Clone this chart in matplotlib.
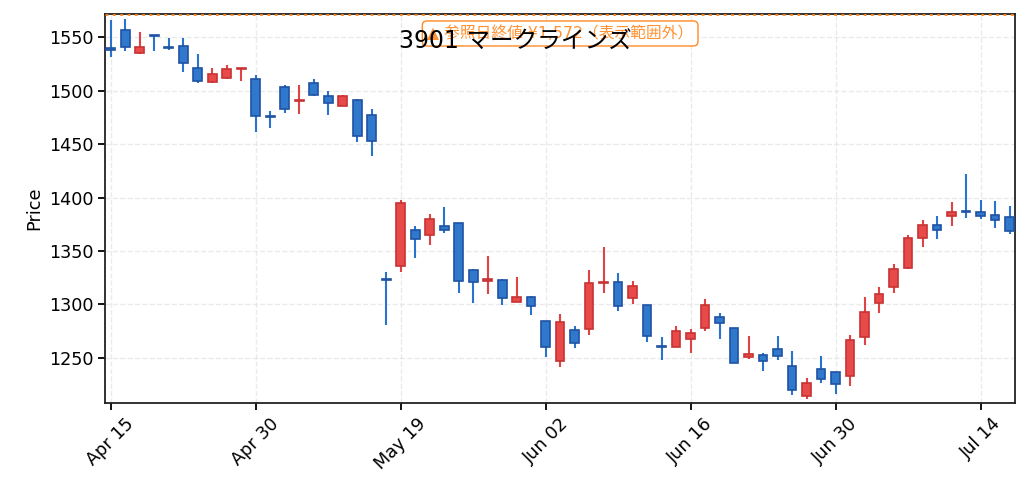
import numpy as np
import matplotlib
matplotlib.use("Agg")
import matplotlib.pyplot as plt

plt.rcParams['font.family'] = ['DejaVu Sans', 'Noto Sans CJK JP']

# 1 Datos (días hábiles)
opens = [1540, 1557, 1535.4, 1552.5, 1541, 1541.6, 1521, 1507.8, 1512, 1520,
         1511, 1476, 1503.4, 1490, 1507.5, 1495, 1485.4, 1491.3, 1477.3, 1324,
         1336, 1370, 1365, 1373.8, 1376.6, 1332.5, 1322.3, 1323, 1302.2, 1307.2,
         1284.7, 1246.9, 1276.3, 1276.9, 1320.3, 1320.8, 1306.3, 1299, 1261, 1259.7,
         1267.6, 1277.4, 1287.7, 1278.3, 1250.3, 1252.8, 1258.5, 1242.5, 1214.5, 1239.6,
         1236.8, 1232.8, 1269.7, 1301.3, 1316.3, 1333.8, 1362.2, 1374.7, 1382.8, 1387,
         1386.3, 1383.4, 1381.6]
highs = [1566.5, 1567.4, 1555.3, 1552.5, 1549, 1549.7, 1534, 1520.8, 1524.5, 1521,
         1514.3, 1480.7, 1505, 1505, 1510.6, 1499.4, 1496.3, 1492, 1482.6, 1330.3,
         1397.8, 1373.4, 1384.7, 1391.3, 1376.6, 1332.8, 1345.3, 1323.4, 1325.6, 1307.5,
         1284.7, 1290.9, 1279.7, 1332.2, 1353.8, 1328.9, 1321.4, 1299.4, 1269.5, 1279.9,
         1276.7, 1305, 1291.8, 1278.3, 1270.4, 1254, 1270.4, 1256.3, 1231.4, 1251.6,
         1236.8, 1270.9, 1306.9, 1316.3, 1337.8, 1364.7, 1379, 1382.8, 1395.9, 1422.2,
         1397.8, 1396.9, 1392.2]
lows = [1532, 1537, 1534.5, 1537.6, 1538, 1517.4, 1507, 1507.5, 1511, 1509,
        1461.5, 1465.2, 1479.2, 1478.3, 1495, 1477.3, 1485.4, 1452.2, 1439.1, 1280.6,
        1330.6, 1343.8, 1356, 1366.6, 1311, 1301.6, 1310, 1299.7, 1302.2, 1290.3,
        1251, 1241.6, 1259.4, 1271.6, 1310.9, 1293.4, 1300, 1265, 1248, 1259.7,
        1254.7, 1275.5, 1267.9, 1245, 1248.4, 1237.7, 1248, 1215, 1211.3, 1226.4,
        1216.4, 1223.8, 1262.2, 1292.2, 1311, 1332.8, 1354, 1361.6, 1373.8, 1381.3,
        1380.3, 1371.9, 1366.3]
closes = [1538.5, 1541, 1540.7, 1551.5, 1540, 1525.5, 1509.3, 1515.5, 1520.2, 1521,
          1476.7, 1475, 1483.2, 1491, 1496.3, 1488.2, 1495, 1457.5, 1452.8, 1323,
          1395.3, 1361, 1380.3, 1369.7, 1321.9, 1321, 1323, 1306, 1307.2, 1298.4,
          1260, 1283.8, 1263.8, 1320.3, 1321.3, 1298.7, 1317, 1270.4, 1260.4, 1275.5,
          1273.6, 1299.4, 1282.7, 1245, 1253.8, 1246.9, 1251.6, 1219.5, 1226.4, 1229.9,
          1225.8, 1266.6, 1292.8, 1310, 1332.8, 1362.5, 1374.7, 1369.7, 1386.9, 1386,
          1382.8, 1379, 1368.4]

tick_labels = ['Apr 15', 'Apr 30', 'May 19', 'Jun 02', 'Jun 16', 'Jun 30', 'Jul 14']
ref_close = 1572
titulo = '3901 マークラインズ'

df_o = np.array(opens)
df_h = np.array(highs)
df_l = np.array(lows)
df_c = np.array(closes)
x = np.arange(len(df_o))

sube = df_c >= df_o
cara = np.where(sube, '#e84a4a', '#2f78cc')
borde = np.where(sube, '#c83232', '#1f52a3')
mecha = np.where(sube, '#e04343', '#2a73cc')

# 2 Visualización
fig = plt.figure(figsize=(10.31, 4.92), dpi=100)
ax = fig.add_axes([0.1018, 0.181, 0.883, 0.7905])

ax.vlines(x, df_l, df_h, colors=mecha, linewidth=1.5, zorder=2)
altura = df_c - df_o
altura = np.where(np.abs(altura) < 1, np.sign(altura + 1e-9) * 1, altura)
ax.bar(x, altura, bottom=df_o, width=0.6, color=cara, edgecolor=borde,
       linewidth=1.2, zorder=3)

ax.axhline(ref_close, color='#ff7f0e', linestyle=':', linewidth=2, zorder=4)
ax.text(0.5, 0.95, f'▲ 参照日終値 ¥{ref_close:,}（表示範囲外）', transform=ax.transAxes,
        ha='center', va='center', color='#ff7f0e', fontsize=11.3, alpha=0.85,
        bbox=dict(boxstyle='round,pad=0.3', fc='white', ec='#ff7f0e', alpha=0.9),
        zorder=5)

ax.set_xlim(-0.4, len(x) - 0.6)
ax.set_ylim(1207.7, 1571.8)
ax.set_xticks(x[::10])
ax.set_xticklabels(tick_labels, rotation=45)
ax.set_ylabel('Price', fontsize=12.7)
ax.tick_params(labelsize=12.7, length=5, width=1.3)
for s in ax.spines.values():
    s.set_linewidth(1.3)
    s.set_color('#222222')
ax.grid(True, linestyle='--', color='#dddddd', alpha=0.6, linewidth=1)
ax.set_axisbelow(True)

fig.text(0.5, 0.916, titulo, ha='center', va='center', fontsize=17)

fig.savefig('out.png', dpi=100)
